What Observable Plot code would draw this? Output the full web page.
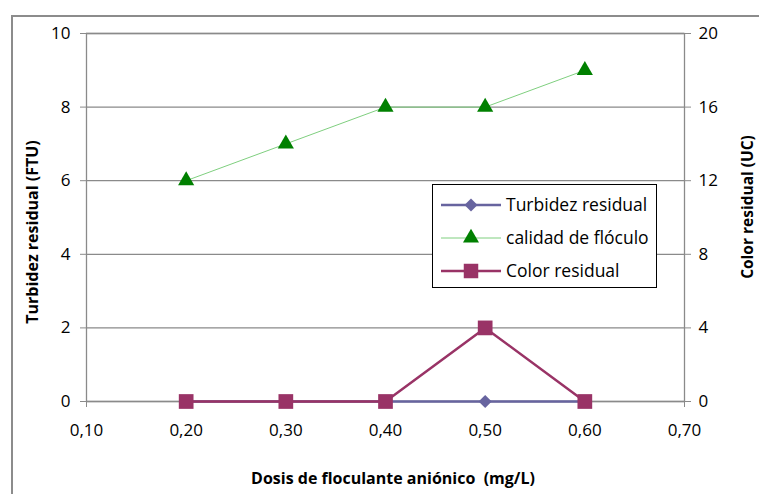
<!DOCTYPE html>
<html>
<head>
<meta charset="utf-8">
<script src="https://cdn.jsdelivr.net/npm/d3@7"></script>
<script src="https://cdn.jsdelivr.net/npm/@observablehq/plot@0.6"></script>
<style>
  html, body { margin: 0; padding: 0; background: #fff; overflow: hidden; width: 759px; height: 494px; }
  #wrap { position: relative; width: 759px; height: 494px; font-family: "Open Sans", Lato, sans-serif; }
  #frame { position: absolute; left: 11px; top: 15px; width: 900px; height: 700px; border: 2px solid #8c8c8c; box-sizing: border-box; }
  .title { position: absolute; font-weight: bold; font-size: 16px; color: #000; white-space: nowrap; line-height: 1; }
  #legend { position: absolute; left: 432px; top: 184px; width: 225px; height: 104px; border: 1px solid #000; background: #fff; box-sizing: border-box; }
  .lg-row { position: absolute; left: 0; height: 30px; width: 225px; }
  .lg-row svg { position: absolute; left: 6px; top: 0; }
  .lg-row span { position: absolute; left: 73px; top: 3px; font-size: 17.5px; line-height: 22px; color: #000; white-space: nowrap; }
  #chart { position: absolute; left: 0; top: 0; }
</style>
</head>
<body>
<div id="wrap">
  <div id="frame"></div>
  <div id="chart"></div>
  <div class="title" id="xt" style="left:393px; top:478px; transform: translate(-50%,-50%);">Dosis de floculante aniónico&nbsp; (mg/L)</div>
  <div class="title" id="ylt" style="left:32px; top:232px; transform: translate(-50%,-50%) rotate(-90deg);">Turbidez residual (FTU)</div>
  <div class="title" id="yrt" style="left:748px; top:207px; font-size:15.5px; transform: translate(-50%,-50%) rotate(-90deg);">Color residual (UC)</div>
  <div id="legend"></div>
</div>
<script>
const dosis = [0.20, 0.30, 0.40, 0.50, 0.60];
const turbidez = [0, 0, 0, 0, 0];
const calidad = [6, 7, 8, 8, 9];
const colorRes = [0, 0, 0, 4, 0];
const xTicks = [0.10, 0.20, 0.30, 0.40, 0.50, 0.60, 0.70];
const leftTicks = [0, 2, 4, 6, 8, 10];
const rightTicks = [0, 4, 8, 12, 16, 20];

const colTurb = "#67649f";
const colCal = "#008000";
const colCalLine = "#7fcf7f";
const colColor = "#993366";

const rows = dosis.map((d, i) => ({x: d, turb: turbidez[i], cal: calidad[i], col: colorRes[i]}));
const fmt = d => d.toFixed(2).replace(".", ",");
const FS = 17;

const chart = Plot.plot({
  width: 759,
  height: 494,
  marginLeft: 86,
  marginRight: 75,
  marginTop: 33,
  marginBottom: 93,
  style: {fontFamily: "'Open Sans', Lato, sans-serif", fontSize: "17px", color: "#000", background: "transparent"},
  x: {domain: [0.1, 0.7]},
  y: {domain: [0, 10]},
  marks: [
    Plot.gridY(leftTicks, {stroke: "#8a8a8a", strokeOpacity: 1, strokeWidth: 1.3}),
    Plot.frame({stroke: "#8a8a8a", strokeWidth: 1.3}),
    Plot.axisY({ticks: leftTicks, tickSize: 6, tickPadding: 10, stroke: "#8a8a8a", label: null, tickFormat: d => d, fontSize: FS}),
    Plot.axisY({anchor: "right", ticks: rightTicks.map(v => v / 2), tickSize: 6, tickPadding: 8, stroke: "#8a8a8a", label: null, tickFormat: d => d * 2, fontSize: FS}),
    Plot.axisX({ticks: [0.1, 0.7], tickSize: 6, stroke: "#8a8a8a", tickFormat: () => "", label: null}),
    Plot.axisX({ticks: xTicks, tickSize: 0, tickPadding: 22, tickFormat: fmt, label: null, fontSize: FS}),
    Plot.line(rows, {x: "x", y: "turb", stroke: colTurb, strokeWidth: 2.5}),
    Plot.dot(rows, {x: "x", y: "turb", symbol: "diamond2", r: 5.9, fill: colTurb, stroke: null}),
    Plot.line(rows, {x: "x", y: "cal", stroke: colCalLine, strokeWidth: 1}),
    Plot.dot(rows, {x: "x", y: "cal", symbol: "triangle", r: 6, fill: colCal, stroke: null}),
    Plot.line(rows, {x: "x", y: d => d.col / 2, stroke: colColor, strokeWidth: 2.5}),
    Plot.dot(rows, {x: "x", y: d => d.col / 2, symbol: "square", r: 8.3, fill: colColor, stroke: null})
  ]
});
document.getElementById("chart").appendChild(chart);

// Legend
const legendItems = [
  {label: "Turbidez residual", line: colTurb, lw: 2.5, fill: colTurb, symbol: d3.symbolDiamond2, size: 107},
  {label: "calidad de flóculo", line: colCalLine, lw: 1, fill: colCal, symbol: d3.symbolTriangle, size: 111},
  {label: "Color residual", line: colColor, lw: 2.5, fill: colColor, symbol: d3.symbolSquare, size: 210}
];
const legend = document.getElementById("legend");
legendItems.forEach((it, i) => {
  const row = document.createElement("div");
  row.className = "lg-row";
  row.style.top = (5 + i * 33) + "px";
  const svg = d3.create("svg").attr("width", 66).attr("height", 30);
  svg.append("line").attr("x1", 2).attr("x2", 62).attr("y1", 15).attr("y2", 15)
    .attr("stroke", it.line).attr("stroke-width", it.lw);
  svg.append("path").attr("d", d3.symbol(it.symbol, it.size)()).attr("transform", "translate(32,15)")
    .attr("fill", it.fill);
  row.appendChild(svg.node());
  const sp = document.createElement("span");
  sp.textContent = it.label;
  row.appendChild(sp);
  legend.appendChild(row);
});
</script>
</body>
</html>
